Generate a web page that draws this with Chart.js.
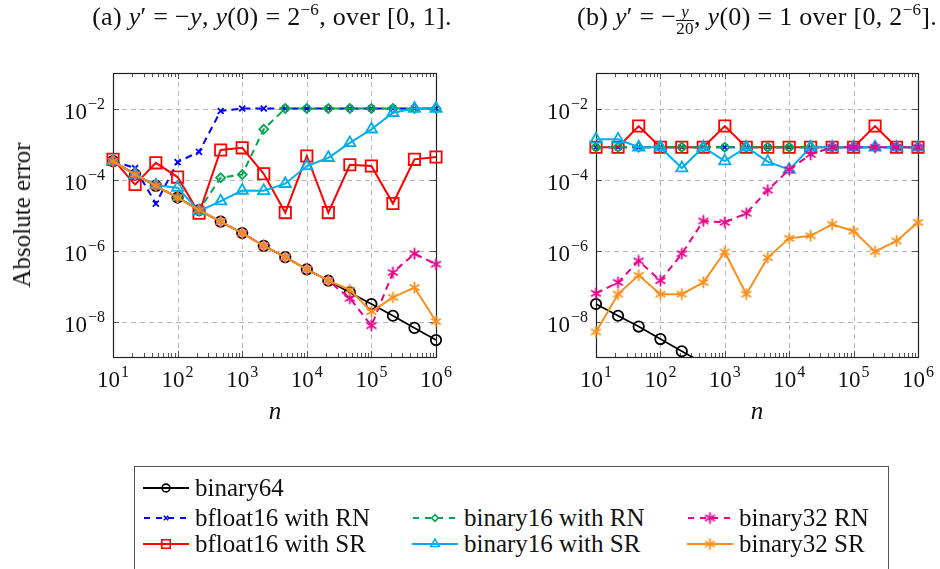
<!DOCTYPE html>
<html>
<head>
<meta charset="utf-8">
<script src="https://cdn.jsdelivr.net/npm/chart.js@4.4.1/dist/chart.umd.min.js"></script>
<style>
  html, body { margin: 0; padding: 0; background: #fff; }
  body { width: 940px; height: 569px; position: relative; overflow: hidden; font-family: "Liberation Serif", serif; color: #111; }
  canvas { position: absolute; top: 0; }
  .title { position: absolute; top: 2px; font-size: 26px; white-space: nowrap; transform: translateX(-50%); letter-spacing: 0.3px; }
  .title sup { font-size: 17px; vertical-align: 10px; line-height: 0; }
  .frac { display: inline-block; vertical-align: -9px; text-align: center; font-size: 17px; line-height: 16px; }
  .frac span { display: block; }
  .frac .den { border-top: 1px solid #111; }
  .xlabel { position: absolute; top: 397px; font-size: 25px; font-style: italic; transform: translateX(-50%); }
  .ylabel { position: absolute; left: 22px; top: 215px; font-size: 25px; white-space: nowrap; transform: translate(-50%, -50%) rotate(-90deg); }
  #legend { position: absolute; left: 134px; top: 466px; width: 755px; height: 120px; border: 1px solid #555; box-sizing: border-box; }
  .item { position: absolute; height: 26px; font-size: 25px; line-height: 26px; white-space: nowrap; }
  .item canvas { position: absolute; left: 0; top: 3px; }
  .item span { position: absolute; left: 52px; top: 0; }
</style>
</head>
<body>
<canvas id="chartA" width="470" height="440" style="left:0"></canvas>
<canvas id="chartB" width="470" height="440" style="left:470px"></canvas>

<div class="title" style="left:272px">(a) <i>y</i>′ = −<i>y</i>, <i>y</i>(0) = 2<sup>−6</sup>, over [0, 1].</div>
<div class="title" style="left:757px">(b) <i>y</i>′ = −<span class="frac"><span><i>y</i></span><span class="den">20</span></span>, <i>y</i>(0) = 1 over [0, 2<sup>−6</sup>].</div>
<div class="xlabel" style="left:275px">n</div>
<div class="xlabel" style="left:757px">n</div>
<div class="ylabel">Absolute error</div>
<div id="legend"></div>

<script>
// number of steps n (x axis)
const nValues = [10, 22, 46, 100, 215, 464, 1000, 2154, 4642, 10000, 21544, 46416, 100000, 215443, 464159, 1000000];
const xTicks = [1e1, 1e2, 1e3, 1e4, 1e5, 1e6];
const xTickExp = ['1', '2', '3', '4', '5', '6'];
const yTicks = [1e-8, 1e-6, 1e-4, 1e-2];
const yTickExp = ['−8', '−6', '−4', '−2'];

// (a) y' = -y, y(0) = 2^-6
const aBinary64 = [3.3e-4, 1.38e-4, 6.6e-5, 3.1e-5, 1.38e-5, 6.5e-6, 3.1e-6, 1.35e-6, 6.5e-7, 2.95e-7, 1.41e-7, 6.6e-8, 3.1e-8, 1.45e-8, 6.6e-9, 3.0e-9];
const aBf16RN = [3.3e-4, 2.1e-4, 2.1e-5, 3.1e-4, 6.0e-4, 8.5e-3, 1e-2, 1e-2, 1e-2, 1e-2, 1e-2, 1e-2, 1e-2, 1e-2, 1e-2, 1e-2];
const aB16RN = [3.3e-4, 1.38e-4, 6.6e-5, 3.1e-5, 1.38e-5, 1.12e-4, 1.38e-4, 2.6e-3, 1e-2, 1e-2, 1e-2, 1e-2, 1e-2, 1e-2, 1e-2, 1e-2];
const aB32RN = [3.3e-4, 1.38e-4, 6.6e-5, 3.1e-5, 1.38e-5, 6.5e-6, 3.1e-6, 1.35e-6, 6.5e-7, 2.95e-7, 1.41e-7, 4.5e-8, 7.6e-9, 2.4e-7, 8.1e-7, 4.1e-7];
const aBf16SR = [3.7e-4, 7.2e-5, 2.95e-4, 1.17e-4, 1.12e-5, 6.8e-4, 7.8e-4, 1.45e-4, 1.17e-5, 4.6e-4, 1.17e-5, 2.6e-4, 2.4e-4, 2.1e-5, 3.7e-4, 4.3e-4];
const aB16SR = [3.3e-4, 1.38e-4, 6.9e-5, 5.9e-5, 1.29e-5, 2.45e-5, 4.9e-5, 4.8e-5, 7.6e-5, 2.4e-4, 4.1e-4, 1.07e-3, 2.6e-3, 7.6e-3, 1e-2, 1e-2];
const aB32SR = [3.3e-4, 1.38e-4, 6.6e-5, 3.1e-5, 1.38e-5, 6.5e-6, 3.1e-6, 1.35e-6, 6.5e-7, 2.95e-7, 1.41e-7, 7.8e-8, 1.9e-8, 4.8e-8, 9.1e-8, 1.0e-8];

// (b) y' = -y/20, y(0) = 1
const bBinary64 = [3.1e-8, 1.45e-8, 7.2e-9, 3.2e-9, 1.45e-9, 6.7e-10, null, null, null, null, null, null, null, null, null, null];
const bBf16RN = [8.1e-4, 8.1e-4, 8.1e-4, 8.1e-4, 8.1e-4, 8.1e-4, 8.1e-4, 8.1e-4, 8.1e-4, 8.1e-4, 8.1e-4, 8.1e-4, 8.1e-4, 8.1e-4, 8.1e-4, 8.1e-4];
const bB16RN = [8.1e-4, 8.1e-4, 8.1e-4, 8.1e-4, 8.1e-4, 8.1e-4, 8.1e-4, 8.1e-4, 8.1e-4, 8.1e-4, 8.1e-4, 8.1e-4, 8.1e-4, 8.1e-4, 8.1e-4, 8.1e-4];
const bB32RN = [6.2e-8, 1.26e-7, 5.1e-7, 1.41e-7, 8.1e-7, 6.8e-6, 6.2e-6, 1.12e-5, 5.0e-5, 1.9e-4, 5.1e-4, 8.1e-4, 8.1e-4, 8.1e-4, 8.1e-4, 8.1e-4];
const bBf16SR = [8.1e-4, 8.1e-4, 3.2e-3, 8.1e-4, 8.1e-4, 8.1e-4, 3.2e-3, 8.1e-4, 8.1e-4, 8.1e-4, 8.1e-4, 8.1e-4, 8.1e-4, 3.2e-3, 8.1e-4, 8.1e-4];
const bB16SR = [1.35e-3, 1.35e-3, 8.1e-4, 8.1e-4, 2.1e-4, 8.1e-4, 3.3e-4, 8.1e-4, 3.2e-4, 1.9e-4, 8.1e-4, 8.1e-4, 8.1e-4, 8.1e-4, 8.1e-4, 8.1e-4];
const bB32SR = [5.1e-9, 5.9e-8, 2.0e-7, 5.9e-8, 5.9e-8, 1.26e-7, 9.1e-7, 5.9e-8, 6.3e-7, 2.2e-6, 2.6e-6, 5.5e-6, 3.5e-6, 9.3e-7, 1.86e-6, 6.2e-6];

// 6-armed asterisk mark like pgfplots
function asterisk(color) {
    const c = document.createElement('canvas');
    c.width = 13; c.height = 13;
    const g = c.getContext('2d');
    g.strokeStyle = color; g.lineWidth = 1.8; g.lineCap = 'round';
    for (let k = 0; k < 3; k++) {
        const a = Math.PI / 2 + k * Math.PI / 3;
        g.beginPath();
        g.moveTo(6.5 + 5 * Math.cos(a), 6.5 + 5 * Math.sin(a));
        g.lineTo(6.5 - 5 * Math.cos(a), 6.5 - 5 * Math.sin(a));
        g.stroke();
    }
    return c;
}

const dash = [7, 5];
const series = {
    b32SR:    { label: 'binary32 SR',       color: '#f7901e', dash: [], point: asterisk('#f7901e'), radius: 6 },
    b32RN:    { label: 'binary32 RN',       color: '#ec008c', dash: dash, point: asterisk('#ec008c'), radius: 6 },
    b16SR:    { label: 'binary16 with SR',  color: '#00aeef', dash: [], point: 'triangle', radius: 6.5 },
    b16RN:    { label: 'binary16 with RN',  color: '#00a651', dash: dash, point: 'rectRot', radius: 4.5 },
    bf16SR:   { label: 'bfloat16 with SR',  color: '#ff0000', dash: [], point: 'rect', radius: 8 },
    bf16RN:   { label: 'bfloat16 with RN',  color: '#0000ff', dash: dash, point: 'crossRot', radius: 4.2 },
    binary64: { label: 'binary64',          color: '#000000', dash: [], point: 'circle', radius: 5.2 }
};

function ds(key, values) {
    const s = series[key];
    return {
        label: s.label,
        data: values.map((v, i) => ({ x: nValues[i], y: v })),
        borderColor: s.color,
        borderWidth: key === 'binary64' ? 1.7 : 2,
        borderDash: s.dash,
        pointStyle: s.point,
        pointRadius: s.radius,
        pointBorderColor: s.color,
        pointBackgroundColor: 'rgba(0,0,0,0)',
        pointBorderWidth: 1.8,
        clip: { left: 10, top: 10, right: 10, bottom: 0 },
        tension: 0
    };
}

function drawPow(ctx, x, y, exp, align) {
    ctx.font = '23px "Liberation Serif", serif';
    const w1 = ctx.measureText('10').width;
    ctx.font = '16px "Liberation Serif", serif';
    const w2 = ctx.measureText(exp).width;
    const total = w1 + w2 + 1;
    const x0 = align === 'center' ? x - total / 2 : x - total;
    ctx.fillStyle = '#111';
    ctx.textAlign = 'left';
    ctx.textBaseline = 'alphabetic';
    ctx.font = '23px "Liberation Serif", serif';
    ctx.fillText('10', x0, y);
    ctx.font = '16px "Liberation Serif", serif';
    ctx.fillText(exp, x0 + w1 + 1, y - 10);
}

const axisPlugin = {
    id: 'pgfaxis',
    beforeDatasetsDraw(chart) {
        const { ctx, chartArea: a, scales: { x, y } } = chart;
        ctx.save();
        ctx.lineWidth = 1;
        ctx.strokeStyle = '#b8b8b8';
        ctx.setLineDash([5, 4]);
        xTicks.slice(1, -1).forEach(v => {
            const px = Math.round(x.getPixelForValue(v)) + 0.5;
            ctx.beginPath(); ctx.moveTo(px, a.top); ctx.lineTo(px, a.bottom); ctx.stroke();
        });
        yTicks.forEach(v => {
            const py = Math.round(y.getPixelForValue(v)) + 0.5;
            ctx.beginPath(); ctx.moveTo(a.left, py); ctx.lineTo(a.right, py); ctx.stroke();
        });
        ctx.setLineDash([]);
        ctx.strokeStyle = '#555';
        // minor ticks on x, inside the frame
        for (let d = 1; d < 6; d++) {
            for (let m = 2; m < 10; m++) {
                const px = Math.round(x.getPixelForValue(m * Math.pow(10, d))) + 0.5;
                ctx.beginPath();
                ctx.moveTo(px, a.bottom); ctx.lineTo(px, a.bottom - 4);
                ctx.moveTo(px, a.top); ctx.lineTo(px, a.top + 4);
                ctx.stroke();
            }
        }
        xTicks.forEach(v => {
            const px = Math.round(x.getPixelForValue(v)) + 0.5;
            ctx.beginPath();
            ctx.moveTo(px, a.bottom); ctx.lineTo(px, a.bottom - 6);
            ctx.moveTo(px, a.top); ctx.lineTo(px, a.top + 6);
            ctx.stroke();
        });
        yTicks.forEach(v => {
            const py = Math.round(y.getPixelForValue(v)) + 0.5;
            ctx.beginPath();
            ctx.moveTo(a.left, py); ctx.lineTo(a.left + 6, py);
            ctx.moveTo(a.right, py); ctx.lineTo(a.right - 6, py);
            ctx.stroke();
        });
        ctx.strokeStyle = '#222';
        ctx.lineWidth = 1.2;
        ctx.strokeRect(Math.round(a.left) + 0.5, Math.round(a.top) + 0.5, Math.round(a.width), Math.round(a.height));
        ctx.restore();
    },
    afterDraw(chart) {
        const { ctx, chartArea: a, scales: { x, y } } = chart;
        ctx.save();
        xTicks.forEach((v, i) => drawPow(ctx, x.getPixelForValue(v), a.bottom + 30, xTickExp[i], 'center'));
        yTicks.forEach((v, i) => drawPow(ctx, a.left - 8, y.getPixelForValue(v) + 10, yTickExp[i], 'right'));
        ctx.restore();
    }
};

function makeChart(id, pad, d) {
    new Chart(document.getElementById(id), {
        type: 'line',
        data: {
            datasets: [
                ds('b32SR', d.b32SR), ds('b32RN', d.b32RN), ds('b16SR', d.b16SR), ds('b16RN', d.b16RN),
                ds('bf16SR', d.bf16SR), ds('bf16RN', d.bf16RN), ds('binary64', d.binary64)
            ]
        },
        options: {
            responsive: false,
            animation: false,
            events: [],
            layout: { padding: pad },
            plugins: { legend: { display: false }, tooltip: { enabled: false } },
            scales: {
                x: { type: 'logarithmic', min: 10, max: 1e6, display: false },
                y: { type: 'logarithmic', min: 1e-9, max: 1e-1, display: false }
            }
        },
        plugins: [axisPlugin]
    });
}

makeChart('chartA', { left: 113, top: 73, right: 34, bottom: 83 }, {
    binary64: aBinary64, bf16RN: aBf16RN, b16RN: aB16RN, b32RN: aB32RN, bf16SR: aBf16SR, b16SR: aB16SR, b32SR: aB32SR
});
makeChart('chartB', { left: 126, top: 73, right: 22, bottom: 83 }, {
    binary64: bBinary64, bf16RN: bBf16RN, b16RN: bB16RN, b32RN: bB32RN, bf16SR: bBf16SR, b16SR: bB16SR, b32SR: bB32SR
});

// shared legend below both panels
const legendLayout = [
    ['binary64', 8, 8], ['bf16RN', 8, 38], ['b16RN', 277, 38], ['b32RN', 552, 38],
    ['bf16SR', 8, 64], ['b16SR', 277, 64], ['b32SR', 552, 64]
];
const legend = document.getElementById('legend');
legendLayout.forEach(([key, left, top]) => {
    const s = series[key];
    const item = document.createElement('div');
    item.className = 'item';
    item.style.left = left + 'px';
    item.style.top = top + 'px';
    const c = document.createElement('canvas');
    c.width = 46; c.height = 20;
    const g = c.getContext('2d');
    g.strokeStyle = s.color;
    g.lineWidth = 2;
    g.setLineDash(s.dash.length ? [6, 6] : []);
    g.beginPath();
    if (s.dash.length) { g.moveTo(1, 10); g.lineTo(45, 10); } else { g.moveTo(0, 10); g.lineTo(46, 10); }
    g.stroke();
    g.setLineDash([]);
    g.lineWidth = 1.6;
    g.fillStyle = 'rgba(0,0,0,0)';
    Chart.helpers.drawPoint(g, { pointStyle: s.point, radius: s.radius * 0.75, borderWidth: 1.6, rotation: 0 }, 23, 10);
    const t = document.createElement('span');
    t.textContent = s.label;
    item.appendChild(c);
    item.appendChild(t);
    legend.appendChild(item);
});
</script>
</body>
</html>
